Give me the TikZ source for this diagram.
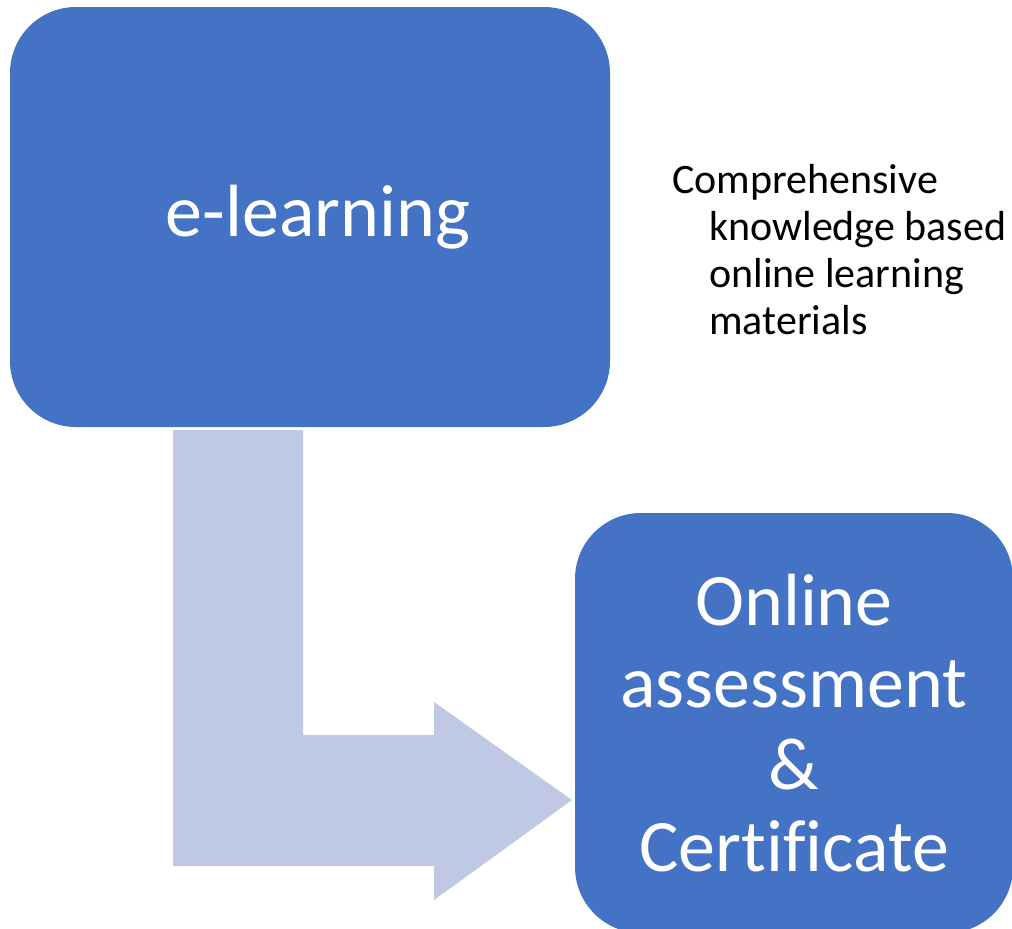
\documentclass[tikz,border=0pt]{standalone}
\usepackage{fontspec}
\setmainfont[Ligatures=NoCommon]{Carlito}
\definecolor{boxblue}{HTML}{4472C4}
\definecolor{arrowblue}{HTML}{BFC9E3}
\begin{document}
\begin{tikzpicture}[x=1pt,y=-1pt,
  bigbox/.style={fill=boxblue, draw=none, rounded corners=66pt, text=white,
    font=\fontsize{74}{82}\selectfont, align=center, inner sep=0pt},
  note/.style={font=\fontsize{42}{47}\selectfont, align=left, inner sep=0pt, text=black}]
\useasboundingbox (0,0) rectangle (1012,929);
\fill[white] (0,0) rectangle (1012,929);
% bent arrow
\fill[arrowblue] (173,430) -- (303,430) -- (303,735) -- (434,735) -- (434,702)
  -- (572,800) -- (434,900) -- (434,866) -- (173,866) -- cycle;
\node[bigbox, minimum width=600pt, minimum height=420pt] (elearn) at (310,217) {\hspace*{16pt}e-learning};
\node[bigbox, minimum width=438pt, minimum height=420pt] (assess) at (794,723)
  {Online\\assessment\\\&\\Certificate};
\node[note, anchor=north west] (desc) at (672,164)
  {Comprehensive\\\hspace*{37pt}knowledge based\\\hspace*{37pt}online learning\\\hspace*{37pt}materials};
\end{tikzpicture}
\end{document}
